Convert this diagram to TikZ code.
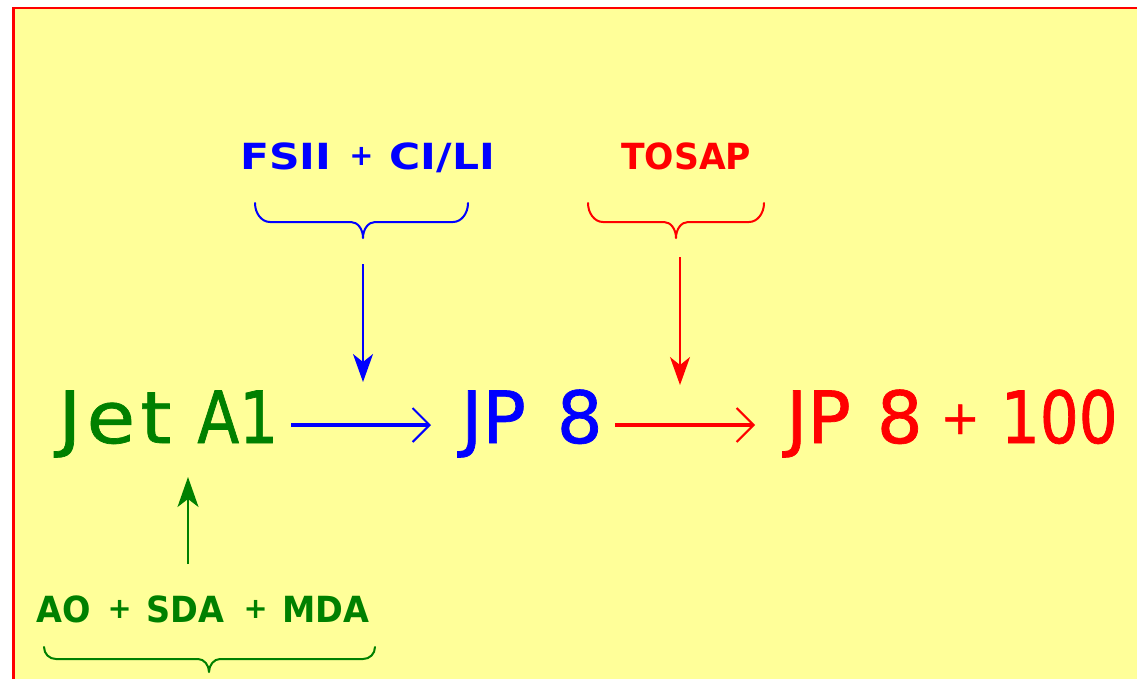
\documentclass[tikz,border=0pt]{standalone}
\usepackage{fontspec}
\setmainfont{DejaVu Sans}
\usepackage{graphicx}
\usetikzlibrary{arrows.meta}
\definecolor{paper}{RGB}{255,255,153}
\definecolor{fuelgreen}{RGB}{0,128,0}
\definecolor{fuelblue}{RGB}{0,0,255}
\definecolor{fuelred}{RGB}{255,0,0}
% a plus sign shrunk and lifted back onto the cap-height middle
\newcommand\smallplus[2]{\raisebox{#2}{\scalebox{#1}{+}}}
% horizontally narrowed or widened lettering
\newcommand\stretched[2]{{\addfontfeature{FakeStretch=#1}#2}}

\begin{document}
\begin{tikzpicture}[x=1pt,y=-1pt,
  big/.style={inner sep=0pt, anchor=base west,
    font=\fontsize{72}{72}\selectfont\addfontfeature{FakeBold=1}},
  tag/.style={inner sep=0pt, anchor=base west, font=\bfseries\fontsize{36}{36}\selectfont},
  flow/.style={line width=3.2pt, -{Straight Barb[length=17pt,width=34pt,line width=2pt]}},
  feed/.style={line width=1.8pt, -{Stealth[length=28pt,width=20pt,inset=8pt]}},
  curly/.style={line width=2pt, line join=round, line cap=round}]
\useasboundingbox (0,0) rectangle (1137,678);
\fill[white] (0,0) rectangle (1137,678);
% sheet
\fill[paper] (13.5,8) rectangle (1140,680);
\draw[fuelred, line width=2.4pt] (13.5,690) -- (13.5,8) -- (1150,8);

% main chain
\node[big, text=fuelgreen] (jet) at (58,443)
  {\stretched{1.1}{J\kern5pt e\kern5pt t}\hspace{26pt}\stretched{0.85}{A1}};
\node[big, text=fuelblue] (jp) at (461,443) {JP\hspace{31pt}8};
\node[big, text=fuelred] (jpc) at (786,443)
  {JP\hspace{26pt}8\hspace{18pt}\smallplus{0.65}{9pt}\hspace{21pt}\stretched{0.85}{100}};

% additive labels
\node[tag, text=fuelblue] (fsii) at (240,169)
  {\stretched{1.18}{FSII}\hspace{18pt}\smallplus{0.8}{3.5pt}\hspace{16pt}\stretched{1.18}{CI/LI}};
\node[tag, text=fuelred] (tosap) at (621,169) {\stretched{0.96}{TOSAP}};
\node[tag, text=fuelgreen] (ao) at (36,622)
  {\stretched{0.93}{AO}\hspace{17pt}\smallplus{0.8}{3.5pt}\hspace{15pt}\stretched{0.93}{SDA}%
   \hspace{19pt}\smallplus{0.8}{3.5pt}\hspace{15pt}\stretched{0.93}{MDA}};

% braces grouping the additives
\draw[curly, fuelblue] (255,203) .. controls (255,213.5) and (261.7,222) .. (270,222) -- (351,222)
  .. controls (357.6,222) and (363,229) .. (363,238) coordinate (fsiitip)
  .. controls (363,229) and (368.4,222) .. (375,222) -- (453,222)
  .. controls (461.3,222) and (468,213.5) .. (468,203);
\draw[curly, fuelred] (588,203) .. controls (588,213.5) and (594.7,222) .. (603,222) -- (664,222)
  .. controls (670.6,222) and (676,229) .. (676,238) coordinate (tosaptip)
  .. controls (676,229) and (681.4,222) .. (688,222) -- (749,222)
  .. controls (757.3,222) and (764,213.5) .. (764,203);
\draw[curly, fuelgreen] (44,647) .. controls (44,654) and (49.4,659) .. (56,659) -- (198,659)
  .. controls (204,659) and (209,665) .. (209,672) coordinate (aotip)
  .. controls (209,665) and (214,659) .. (220,659) -- (363,659)
  .. controls (369.6,659) and (375,654) .. (375,647);

% arrow end points
\coordinate (fsiiout) at (363,264);
\coordinate (fsiiin) at (363,382);
\coordinate (tosapout) at (680,257);
\coordinate (tosapin) at (680,385);
\coordinate (aoout) at (188,564);
\coordinate (aoin) at (188,477);
\coordinate (jetout) at (291,425);
\coordinate (jpin) at (431,425);
\coordinate (jpout) at (615,425);
\coordinate (jpcin) at (755,425);

% connectors
\draw[flow, fuelblue] (jetout) -- (jpin);
\draw[flow, fuelred] (jpout) -- (jpcin);
\draw[feed, fuelblue] (fsiiout) -- (fsiiin);
\draw[feed, fuelred] (tosapout) -- (tosapin);
\draw[feed, fuelgreen, -{Stealth[length=30pt,width=21pt,inset=8pt]}] (aoout) -- (aoin);
\end{tikzpicture}
\end{document}
